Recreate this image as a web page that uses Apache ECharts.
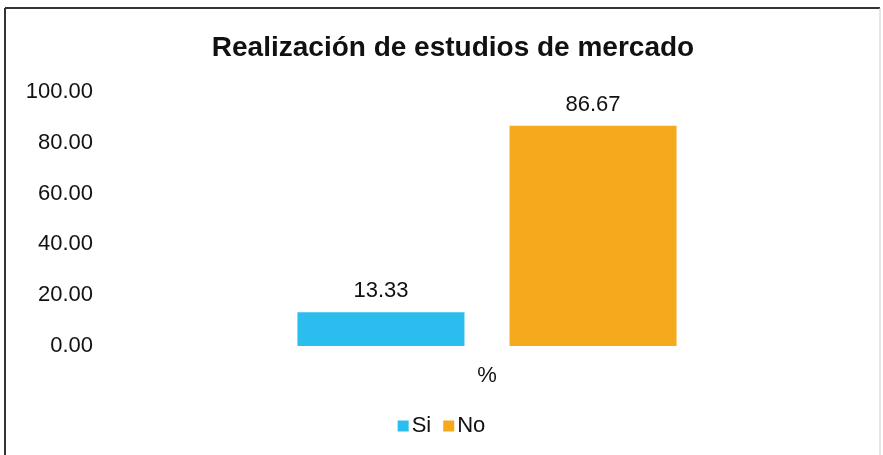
<!DOCTYPE html>
<html>
<head>
<meta charset="utf-8">
<script src="https://cdn.jsdelivr.net/npm/echarts@6/dist/echarts.min.js"></script>
<style>
  html, body { margin: 0; padding: 0; background: #fff; }
  #chart { width: 883px; height: 455px; }
</style>
</head>
<body>
<div id="chart"></div>
<script>
// Survey result: share of respondents who carry out market studies
const categories = ['%'];
const seriesNames = ['Si', 'No'];
const siValues = [13.33];
const noValues = [86.67];
const yTicks = [0, 20, 40, 60, 80, 100];

const colors = ['#2BBDEE', '#F5A91D'];
const font = 'Liberation Sans, Arial, sans-serif';

const chart = echarts.init(document.getElementById('chart'), null, { renderer: 'canvas' });

const valueLabel = {
  show: true, position: 'top', distance: 10,
  fontFamily: font, fontSize: 22, color: '#111',
  formatter: p => p.value.toFixed(2)
};

chart.setOption({
  animation: false,
  backgroundColor: '#ffffff',
  title: {
    text: 'Realización de estudios de mercado',
    left: 448,
    textAlign: 'center',
    top: 29,
    textStyle: { fontFamily: font, fontSize: 28, fontWeight: 'bold', color: '#111' }
  },
  legend: {
    data: seriesNames,
    bottom: 13,
    left: 'center',
    itemWidth: 11,
    itemHeight: 11,
    itemGap: 12,
    icon: 'rect',
    textStyle: { fontFamily: font, fontSize: 22, color: '#111', padding: [0, 0, 0, -2] }
  },
  grid: { left: 100, right: 9, top: 92, bottom: 109, containLabel: false },
  xAxis: {
    type: 'category',
    data: categories,
    axisLine: { show: false },
    axisTick: { show: false },
    axisLabel: { fontFamily: font, fontSize: 22, color: '#111', margin: 19 }
  },
  yAxis: {
    type: 'value',
    min: yTicks[0],
    max: yTicks[yTicks.length - 1],
    interval: 20,
    splitLine: { show: false },
    axisLine: { show: false },
    axisTick: { show: false },
    axisLabel: {
      fontFamily: font, fontSize: 22, color: '#111', margin: 7,
      formatter: v => v.toFixed(2)
    }
  },
  series: [
    {
      name: seriesNames[0],
      type: 'bar',
      data: siValues,
      barWidth: 167,
      barGap: '27%',
      itemStyle: { color: colors[0] },
      label: valueLabel
    },
    {
      name: seriesNames[1],
      type: 'bar',
      data: noValues,
      barWidth: 167,
      barGap: '27%',
      itemStyle: { color: colors[1] },
      label: valueLabel
    }
  ],
  graphic: [
    // chart frame
    { type: 'line', shape: { x1: 5, y1: 8, x2: 880, y2: 8 }, style: { stroke: '#333', lineWidth: 2 } },
    { type: 'line', shape: { x1: 5, y1: 8, x2: 5, y2: 455 }, style: { stroke: '#333', lineWidth: 2 } },
    { type: 'line', shape: { x1: 880, y1: 8, x2: 880, y2: 455 }, style: { stroke: '#ccc', lineWidth: 1 } }
  ]
});
</script>
</body>
</html>
